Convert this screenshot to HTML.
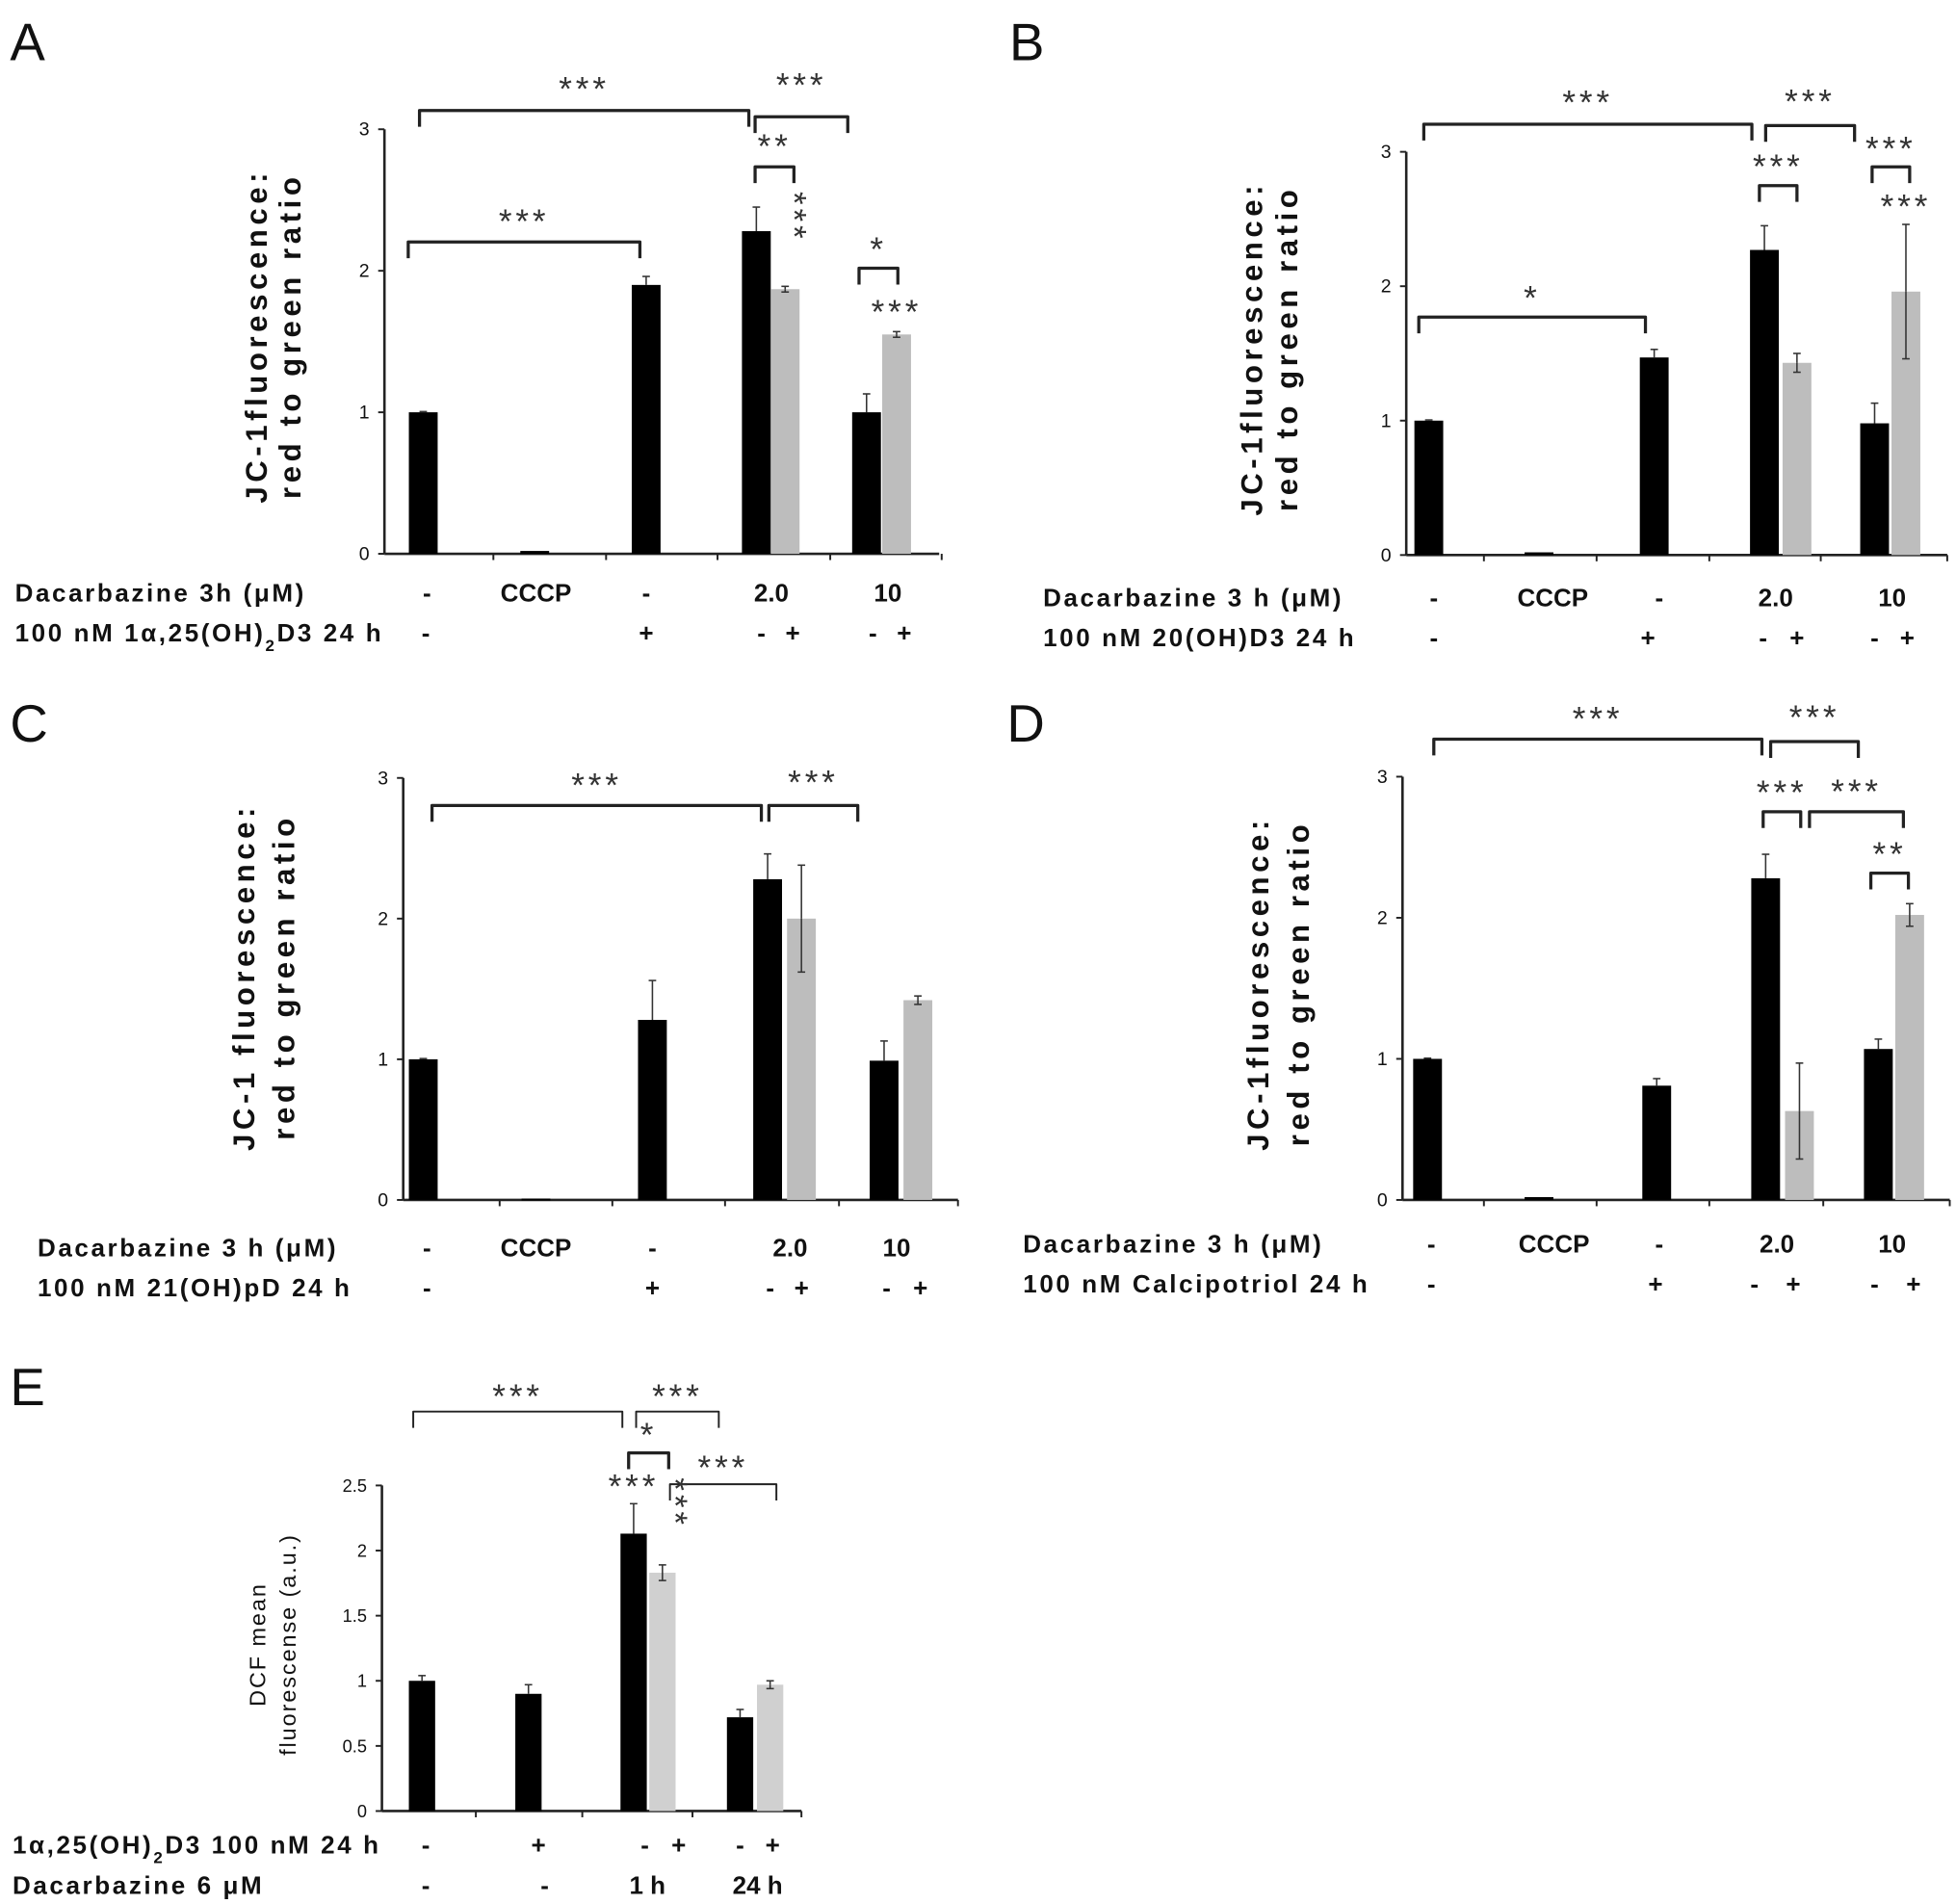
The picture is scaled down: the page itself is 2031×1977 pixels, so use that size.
<!DOCTYPE html>
<html><head><meta charset="utf-8"><style>
html,body{margin:0;padding:0;background:#fff;}
svg{display:block;}
text{font-family:"Liberation Sans",sans-serif;}
</style></head><body>
<svg id="fig" width="2031" height="1977" viewBox="0 0 1562 1520" xmlns="http://www.w3.org/2000/svg"></svg>
<script>
// ---- data ----
const aValues=[1.0,0.02,1.9,2.28,1.87,1.0,1.55];
const aErrors=[0.005,0.005,0.06,0.17,0.02,0.13,0.02];
const bValues=[1.0,0.02,1.47,2.27,1.43,0.98,1.96];
const bErrors=[0.005,0.005,0.06,0.18,0.07,0.15,0.5];
const cValues=[1.0,0.01,1.28,2.28,2.0,0.99,1.42];
const cErrors=[0.005,0.005,0.28,0.18,0.38,0.14,0.03];
const dValues=[1.0,0.02,0.81,2.28,0.63,1.07,2.02];
const dErrors=[0.005,0.005,0.05,0.17,0.34,0.07,0.08];
const eValues=[1.0,0.9,2.13,1.83,0.72,0.97];
const eErrors=[0.04,0.07,0.23,0.06,0.06,0.03];
const jcTicks=["0","1","2","3"];
const eTicks=["0","0.5","1","1.5","2","2.5"];

const NS="http://www.w3.org/2000/svg";
const svg=document.getElementById('fig');
function mk(tag,attrs,parent){const e=document.createElementNS(NS,tag);for(const k in attrs)e.setAttribute(k,attrs[k]);(parent||svg).appendChild(e);return e;}
function txt(x,y,s,opt,parent){const o=opt||{};const t=mk('text',{x:x,y:y,'font-size':o.size||20,'font-weight':o.weight||'bold','text-anchor':o.anchor||'middle',fill:o.fill||'#111'},parent);if(o.ls)t.setAttribute('letter-spacing',o.ls);if(o.rot)t.setAttribute('transform','rotate('+o.rot+' '+x+' '+y+')');t.innerHTML=s;return t;}

function panel(p){
  const g=mk('g',{});
  
  
  const y=v=>p.y0-(v/p.max)*(p.y0-p.ytop);
  mk('line',{x1:p.ax,y1:p.ytop,x2:p.ax,y2:p.y0,stroke:'#222','stroke-width':2},g);
  mk('line',{x1:p.ax,y1:p.y0,x2:p.xend,y2:p.y0,stroke:'#222','stroke-width':2},g);
  p.ticks.forEach((t,i)=>{const v=parseFloat(t);const yy=y(v);
    mk('line',{x1:p.ax-5,y1:yy,x2:p.ax,y2:yy,stroke:'#222','stroke-width':1.5},g);
    const tl=txt(p.ax-12,yy+5,t,{size:p.tickSize||15,weight:'normal',anchor:'end'},g);
    
  });
  p.xt.forEach(xx=>mk('line',{x1:xx,y1:p.y0,x2:xx,y2:p.y0+5,stroke:'#222','stroke-width':1.5},g));
  p.values.forEach((v,i)=>{
    const cx=p.bx[i],w=p.bw,gray=p.gray[i];
    const r=mk('rect',{x:cx-w/2,y:y(v),width:w,height:Math.max(1.5,p.y0-y(v)),fill:gray?p.grayCol:'#000'},g);
    
    
    const e=p.errors[i];
    if(v>0.05){const yt=y(v+e);
      mk('line',{x1:cx,y1:y(v),x2:cx,y2:yt,stroke:'#333','stroke-width':1.2},g);
      mk('line',{x1:cx-3,y1:yt,x2:cx+3,y2:yt,stroke:'#333','stroke-width':1.2},g);
      if(gray){mk('line',{x1:cx,y1:y(v),x2:cx,y2:y(v-e),stroke:'#333','stroke-width':1.2},g);
        mk('line',{x1:cx-3,y1:y(v-e),x2:cx+3,y2:y(v-e),stroke:'#333','stroke-width':1.2},g);}
    }
  });
  p.brackets.forEach(b=>{
    const [x1,x2,yy,lab,ly]=b;const sw=b[5]||2.5;
    mk('path',{d:`M${x1} ${yy+13} L${x1} ${yy} L${x2} ${yy} L${x2} ${yy+13}`,fill:'none',stroke:'#222','stroke-width':sw,'stroke-linejoin':'round'},g);
    const t=txt((x1+x2)/2,ly,lab,{size:27,weight:'normal',fill:'#333',ls:3},g);
    
  });
  (p.stars||[]).forEach(s=>{txt(s[0],s[1],s[2],{size:27,weight:'normal',fill:'#333',rot:s[3]||0,ls:3},g);});
  p.ylab.forEach((l,i)=>{const t=txt(l[0],p.ylabY,l[1],{size:p.ylabSize||24,weight:p.ylabWeight||'bold',rot:-90,ls:p.ylabLs||3.5},g);
    });
  p.rows.forEach(r=>{const t=txt(r[0],r[1],r[2],{size:20,anchor:r[3]||'middle',ls:r[3]?2:0},g);
    });
  txt(p.letter[0],p.letter[1],p.letter[2],{size:42,weight:'normal',anchor:'start'},g);
}
const G=[0,0,0,0,1,0,1];
panel({name:'panel-a',ax:307,y0:442,ytop:103,max:3,xend:750,ticks:jcTicks,values:aValues,errors:aErrors,
 bx:[338,427,516,604,627,692,716],bw:23,gray:G,grayCol:'#bdbdbd',xt:[394,484,573,663,752],
 brackets:[[335,598,88,'***',80],[603,677,93,'***',77],[603,634,133,'**',126],[326,511,193,'***',186],[686,717,214,'*',208]],
 stars:[[625,173,'***',90],[716,258,'***']],
 ylab:[[213,'JC-1fluorescence:'],[240,'red to green ratio']],ylabY:268,
 rows:[[12,480,'Dacarbazine 3h (μM)','start'],[341,480,'-'],[428,480,'CCCP'],[516,480,'-'],[616,480,'2.0'],[709,480,'10'],
  [12,512,'100 nM 1α,25(OH)<tspan baseline-shift="sub" font-size="13">2</tspan>D3 24 h','start'],[340,512,'-'],[516,512,'+'],[608,512,'-'],[633,512,'+'],[697,512,'-'],[722,512,'+']],
 letter:[8,48,'A']});
panel({name:'panel-b',ax:1123,y0:443,ytop:121,max:3,xend:1555,ticks:jcTicks,values:bValues,errors:bErrors,
 bx:[1141,1229,1321,1409,1435,1497,1522],bw:23,gray:G,grayCol:'#bdbdbd',xt:[1185,1275,1365,1454,1555],
 brackets:[[1137,1399,99,'***',91],[1410,1481,100,'***',90],[1405,1435,148,'***',142],[1495,1525,133,'***',128],[1133,1314,253,'*',247]],
 stars:[[1522,174,'***']],
 ylab:[[1008,'JC-1fluorescence:'],[1036,'red to green ratio']],ylabY:278,
 rows:[[833,484,'Dacarbazine 3 h (μM)','start'],[1145,484,'-'],[1240,484,'CCCP'],[1325,484,'-'],[1418,484,'2.0'],[1511,484,'10'],
  [833,516,'100 nM 20(OH)D3 24 h','start'],[1145,516,'-'],[1316,516,'+'],[1408,516,'-'],[1435,516,'+'],[1497,516,'-'],[1523,516,'+']],
 letter:[806,48,'B']});
panel({name:'panel-c',ax:322,y0:958,ytop:621,max:3,xend:765,ticks:jcTicks,values:cValues,errors:cErrors,
 bx:[338,428,521,613,640,706,733],bw:23,gray:G,grayCol:'#bdbdbd',xt:[399,489,579,670,765],
 brackets:[[345,608,643,'***',636],[614,685,643,'***',634]],
 ylab:[[203,'JC-1 fluorescence:'],[235,'red to green ratio']],ylabY:780,
 rows:[[30,1003,'Dacarbazine 3 h (μM)','start'],[341,1003,'-'],[428,1003,'CCCP'],[521,1003,'-'],[631,1003,'2.0'],[716,1003,'10'],
  [30,1035,'100 nM 21(OH)pD 24 h','start'],[341,1035,'-'],[521,1035,'+'],[615,1035,'-'],[640,1035,'+'],[708,1035,'-'],[735,1035,'+']],
 letter:[8,592,'C']});
panel({name:'panel-d',ax:1120,y0:958,ytop:620,max:3,xend:1557,ticks:jcTicks,values:dValues,errors:dErrors,
 bx:[1140,1229,1323,1410,1437,1500,1525],bw:23,gray:G,grayCol:'#bdbdbd',xt:[1185,1275,1365,1456,1557],
 brackets:[[1145,1407,590,'***',583],[1414,1484,592,'***',582],[1408,1438,648,'***',642],[1445,1520,648,'***',641],[1494,1524,697,'**',691]],
 ylab:[[1013,'JC-1fluorescence:'],[1045,'red to green ratio']],ylabY:785,
 rows:[[817,1000,'Dacarbazine 3 h (μM)','start'],[1143,1000,'-'],[1241,1000,'CCCP'],[1325,1000,'-'],[1419,1000,'2.0'],[1511,1000,'10'],
  [817,1032,'100 nM Calcipotriol 24 h','start'],[1143,1032,'-'],[1322,1032,'+'],[1401,1032,'-'],[1432,1032,'+'],[1497,1032,'-'],[1528,1032,'+']],
 letter:[804,592,'D']});
panel({name:'panel-e',ax:305,y0:1446,ytop:1186,max:2.5,xend:640,ticks:eTicks,tickSize:14,values:eValues,errors:eErrors,
 bx:[337,422,506,529,591,615],bw:21,gray:[0,0,0,1,0,1],grayCol:'#d0d0d0',xt:[380,465,553,640],
 brackets:[[330,497,1127,'***',1124,1.5],[508,574,1127,'***',1124,1.5],[502,534,1160,'*',1155,2.5],[535,620,1185,'***',1181,1.5]],
 stars:[[506,1196,'***'],[530,1200,'***',90]],
 ylab:[[212,'DCF mean'],[236,'fluorescense (a.u.)']],ylabY:1313,ylabSize:18,ylabWeight:'normal',ylabLs:1.5,
 rows:[[10,1480,'1α,25(OH)<tspan baseline-shift="sub" font-size="13">2</tspan>D3 100 nM 24 h','start'],[340,1480,'-'],[430,1480,'+'],[515,1480,'-'],[542,1480,'+'],[591,1480,'-'],[617,1480,'+'],
  [10,1512,'Dacarbazine 6 μM','start'],[340,1512,'-'],[435,1512,'-'],[517,1512,'1 h'],[605,1512,'24 h']],
 letter:[8,1122,'E']});
</script>
</body></html>
